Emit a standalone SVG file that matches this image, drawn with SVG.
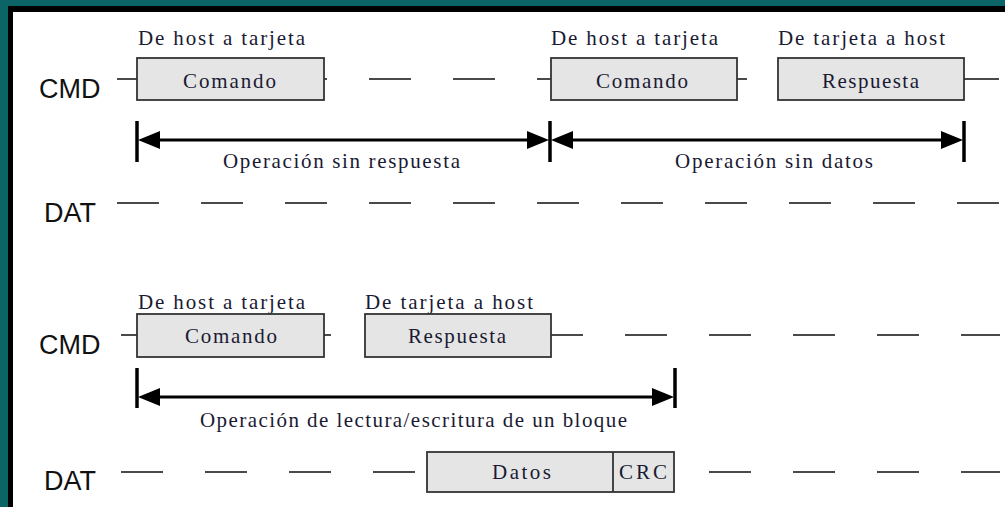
<svg xmlns="http://www.w3.org/2000/svg" width="1005" height="507" viewBox="0 0 1005 507">
<style>
.sig{font-family:"Liberation Sans",Arial,sans-serif;font-size:27px;fill:#111}
.t{font-family:"Liberation Serif","Times New Roman",serif;font-size:21px;fill:#1a1a33}
.box{fill:#e5e5e5;stroke:#333;stroke-width:1.8}
.dash{stroke:#4a4a4a;stroke-width:2;stroke-dasharray:42 42;fill:none}
.bar{stroke:#000;stroke-width:3.5}
.shaft{stroke:#000;stroke-width:3}
.head{fill:#000}
</style>
<rect x="0" y="0" width="1005" height="507" fill="#0b6466"/>
<rect x="8" y="6" width="997" height="501" fill="#000"/>
<rect x="13" y="12" width="992" height="495" fill="#fff"/>

<g id="labels">
<text class="sig" x="39" y="98">CMD</text>
<text class="sig" x="44" y="222">DAT</text>
<text class="sig" x="39" y="354">CMD</text>
<text class="sig" x="44" y="490">DAT</text>
</g>

<g id="lines">
<line class="dash" x1="117" y1="79" x2="1000" y2="79"/>
<line class="dash" x1="117" y1="203" x2="1000" y2="203"/>
<line class="dash" x1="121" y1="335" x2="1000" y2="335"/>
<line class="dash" x1="121" y1="472" x2="1000" y2="472"/>
</g>

<g id="cmd1">
<text class="t" x="138" y="45" textLength="167" lengthAdjust="spacing">De host a tarjeta</text>
<rect class="box" x="137" y="58" width="187" height="42"/>
<text class="t" x="183" y="88" textLength="93" lengthAdjust="spacing">Comando</text>
</g>
<g id="cmd2">
<text class="t" x="551" y="45" textLength="167" lengthAdjust="spacing">De host a tarjeta</text>
<rect class="box" x="551" y="58" width="186" height="42"/>
<text class="t" x="596" y="88" textLength="92" lengthAdjust="spacing">Comando</text>
</g>
<g id="resp1">
<text class="t" x="778" y="45" textLength="167" lengthAdjust="spacing">De tarjeta a host</text>
<rect class="box" x="778" y="58" width="186" height="42"/>
<text class="t" x="822" y="88" textLength="97" lengthAdjust="spacing">Respuesta</text>
</g>

<g id="cmd3">
<text class="t" x="138" y="309" textLength="167" lengthAdjust="spacing">De host a tarjeta</text>
<rect class="box" x="137" y="314" width="187" height="43"/>
<text class="t" x="185" y="343" textLength="92" lengthAdjust="spacing">Comando</text>
</g>
<g id="resp2">
<text class="t" x="365" y="309" textLength="168" lengthAdjust="spacing">De tarjeta a host</text>
<rect class="box" x="365" y="314" width="186" height="43"/>
<text class="t" x="408" y="343" textLength="98" lengthAdjust="spacing">Respuesta</text>
</g>
<g id="datos">
<rect class="box" x="427" y="452" width="247" height="40"/>
<line x1="613" y1="452" x2="613" y2="492" stroke="#333" stroke-width="1.8"/>
<text class="t" x="492" y="479" textLength="59" lengthAdjust="spacing">Datos</text>
<text class="t" x="619" y="479" textLength="48" lengthAdjust="spacing">CRC</text>
</g>

<g id="connectors">
<line class="bar" x1="137" y1="121" x2="137" y2="162"/>
<line class="bar" x1="550" y1="121" x2="550" y2="162"/>
<line class="bar" x1="964" y1="121" x2="964" y2="162"/>
<line class="shaft" x1="150" y1="140" x2="540" y2="140"/>
<line class="shaft" x1="560" y1="140" x2="952" y2="140"/>
<polygon class="head" points="138,140 160,131 160,149"/>
<polygon class="head" points="549,140 527,131 527,149"/>
<polygon class="head" points="551,140 573,131 573,149"/>
<polygon class="head" points="963,140 941,131 941,149"/>

<line class="bar" x1="137" y1="368" x2="137" y2="408"/>
<line class="bar" x1="675" y1="368" x2="675" y2="408"/>
<line class="shaft" x1="150" y1="397" x2="662" y2="397"/>
<polygon class="head" points="138,397 160,388 160,406"/>
<polygon class="head" points="674,397 652,388 652,406"/>
</g>

<g id="captions">
<text class="t" x="223" y="168" textLength="237" lengthAdjust="spacing">Operación sin respuesta</text>
<text class="t" x="675" y="168" textLength="198" lengthAdjust="spacing">Operación sin datos</text>
<text class="t" x="200" y="427" textLength="427" lengthAdjust="spacing">Operación de lectura/escritura de un bloque</text>
</g>
</svg>
